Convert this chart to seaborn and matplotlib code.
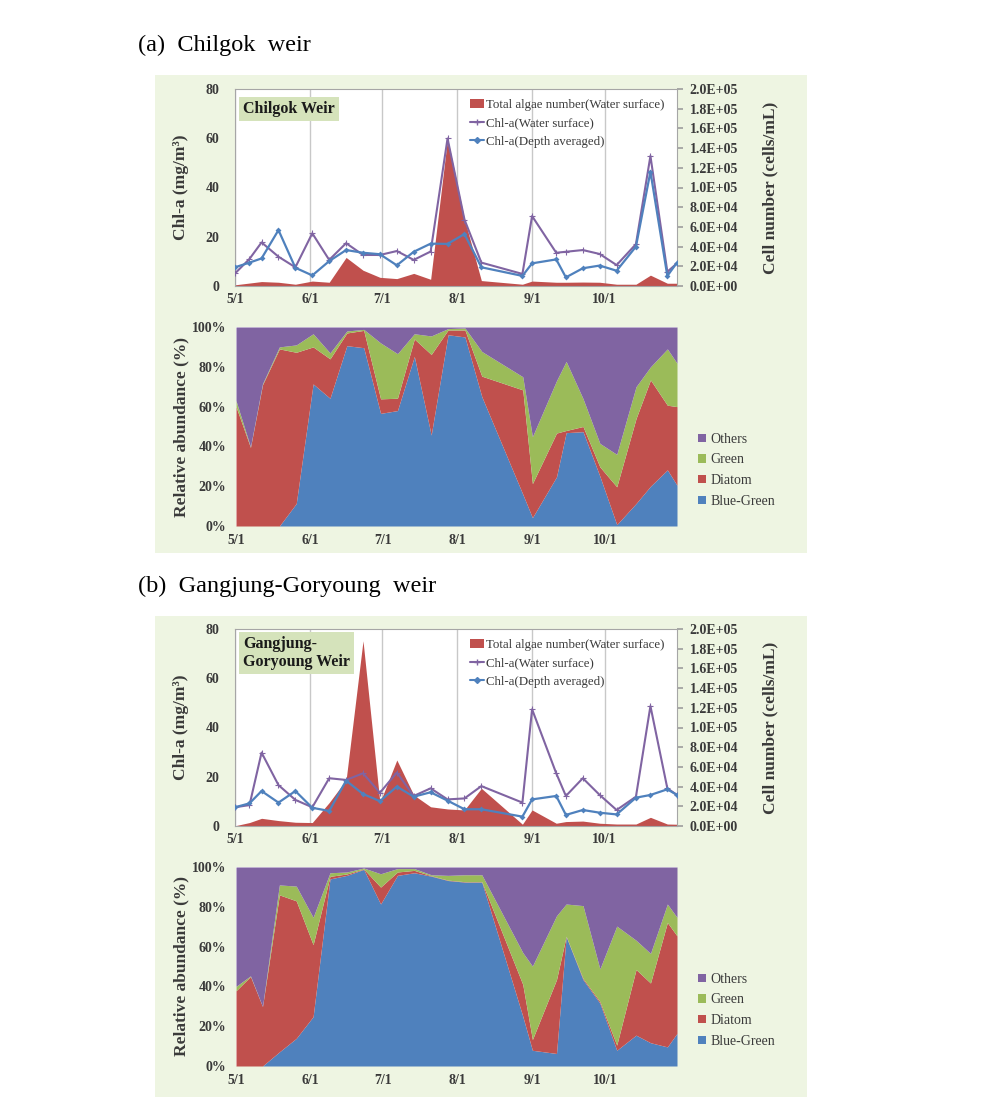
import numpy as np
import pandas as pd
import seaborn as sns
import matplotlib.pyplot as plt
from matplotlib.patches import Patch, Rectangle
from matplotlib.lines import Line2D

# sampling dates (2013)
dates = ["05-01", "05-07", "05-12", "05-19", "05-26", "06-02", "06-09", "06-16", "06-23",
         "06-30", "07-07", "07-14", "07-21", "07-28", "08-04", "08-11", "08-28", "09-01",
         "09-11", "09-15", "09-22", "09-29", "10-06", "10-14", "10-20", "10-27", "10-31"]
month_ticks = ["05-01", "06-01", "07-01", "08-01", "09-01", "10-01"]
month_labels = ["5/1", "6/1", "7/1", "8/1", "9/1", "10/1"]

# (a) Chilgok weir
a_cells = [1200, 3000, 4500, 3800, 1800, 5000, 3800, 29000, 16000, 8800, 7500, 12800, 6800,
           150000, 68000, 5500, 1800, 5000, 3800, 3800, 4000, 3800, 1800, 1800, 11000, 2800, 2800]
a_surface = [5.1, 11.0, 17.7, 11.9, 7.6, 21.4, 10.6, 17.4, 12.6, 12.6, 14.2, 10.6, 14.0, 59.9,
             27.0, 9.5, 4.9, 28.4, 13.5, 13.9, 14.6, 13.0, 8.5, 17.0, 52.8, 5.8, 9.2]
a_depth = [7.6, 9.5, 11.2, 22.7, 7.4, 4.3, 10.1, 14.6, 13.5, 12.9, 8.4, 13.9, 17.2, 17.1,
           21.1, 7.6, 4.1, 9.2, 10.8, 3.5, 7.2, 8.3, 6.2, 16.0, 46.4, 4.1, 9.5]
a_bluegreen = [0, 0, 0, 0, 11.3, 71.4, 64.2, 90.6, 89.6, 56.6, 58.0, 85.2, 45.7, 96.1, 95.0,
               65.0, 16.0, 4.2, 24.7, 46.9, 47.4, 25.0, 0.7, 11.3, 20.0, 28.2, 20.5]
a_diatom = [60.0, 39.5, 71.0, 89.0, 76.0, 18.6, 19.8, 6.4, 8.7, 7.3, 6.2, 8.8, 40.5, 2.4, 3.5,
            10.3, 52.4, 17.1, 22.0, 1.1, 2.6, 4.7, 19.0, 42.7, 53.4, 32.5, 39.5]
a_green = [3.0, 0.3, 0.5, 1.0, 3.7, 6.6, 3.0, 1.0, 0.5, 28.1, 22.4, 2.6, 9.3, 0.7, 1.0, 12.4,
           6.6, 23.6, 26.3, 34.7, 14.0, 11.8, 16.3, 16.0, 6.6, 28.3, 21.8]
a_others = [37.0, 60.2, 28.5, 10.0, 9.0, 3.4, 13.0, 2.0, 1.2, 8.0, 13.4, 3.4, 4.5, 0.8, 0.5,
            12.3, 25.0, 55.1, 27.0, 17.3, 36.0, 58.5, 64.0, 30.0, 20.0, 11.0, 18.2]

# (b) Gangjung-Goryoung weir
b_cells = [250, 3500, 7800, 5500, 3800, 3500, 23800, 46800, 188000, 23800, 67000, 31500, 19500,
           17300, 16300, 38300, 1800, 16300, 2800, 4500, 5000, 2800, 2000, 2000, 8800, 2000, 1800]
b_surface = [7.6, 8.5, 29.8, 16.6, 10.6, 7.6, 19.4, 18.7, 21.4, 13.5, 21.7, 12.2, 15.3, 10.8,
             11.2, 16.2, 9.5, 47.4, 21.4, 12.2, 19.4, 12.6, 6.5, 11.9, 48.7, 15.3, 12.6]
b_depth = [7.6, 9.2, 14.2, 9.5, 14.2, 7.4, 6.1, 18.4, 13.0, 10.1, 16.0, 11.9, 13.7, 10.3, 6.8,
           6.8, 3.8, 10.8, 12.2, 4.5, 6.5, 5.4, 4.7, 11.5, 12.6, 14.9, 12.6]
b_bluegreen = [0, 0, 0, 7.1, 13.9, 24.8, 94.0, 95.8, 98.8, 81.4, 95.8, 97.1, 95.4, 93.2, 92.4,
               92.4, 25.0, 7.9, 6.3, 65.0, 43.4, 31.6, 7.9, 15.5, 11.7, 9.6, 16.4]
b_diatom = [37.8, 45.0, 29.9, 78.9, 69.1, 36.2, 1.3, 0.7, 0.2, 8.5, 1.7, 1.2, 0.2, 0.2, 0.2,
            0.2, 16.0, 5.4, 37.1, 0.2, 0.6, 0.8, 2.6, 33.0, 30.0, 62.5, 49.0]
b_green = [2.2, 0.3, 0.0, 5.0, 7.4, 13.7, 1.8, 1.0, 0.5, 6.7, 1.7, 0.9, 0.5, 2.4, 3.5, 3.5,
           16.0, 36.9, 32.1, 16.2, 36.6, 16.4, 59.8, 14.7, 14.9, 9.3, 9.3]
b_others = [60.0, 54.7, 70.1, 9.0, 9.6, 25.3, 2.9, 2.5, 0.5, 3.4, 0.8, 0.8, 3.9, 4.2, 3.9,
            3.9, 43.0, 49.8, 24.5, 18.6, 19.4, 51.2, 29.7, 36.8, 43.4, 18.6, 25.3]

RED, PURPLE, BLUE, GREEN = "#c0504d", "#8064a2", "#4f81bd", "#9bbb59"
TXT = "#3a3a3a"

sns.set_theme(style="white")
plt.rcParams["font.family"] = ["Liberation Serif", "DejaVu Serif"]
plt.rcParams["font.weight"] = "bold"
plt.rcParams["axes.labelweight"] = "bold"

start = pd.Timestamp("2013-05-01")
to_day = lambda lst: np.array((pd.to_datetime(["2013-" + d for d in lst]) - start).days)
days = to_day(dates)
mdays = to_day(month_ticks)
XMAX = days[-1]


def draw_weir(fig, y_top, y_bot, box_text, cells, surface, depth, comp):
    W, H = 998, 1107
    # ---- upper panel: cell number (area, right axis) + Chl-a lines (left axis)
    ax = fig.add_axes([235 / W, 1 - (y_top + 197) / H, 442 / W, 197 / H])
    ax2 = ax.twinx()
    ax.set_facecolor("white")
    ax.fill_between(days, cells, color=RED, lw=0)
    ax.set_xlim(0, XMAX)
    ax.set_ylim(0, 2e5)
    ax.set_xticks(mdays)
    ax.set_xticklabels(month_labels)
    ax.set_axisbelow(True)
    ax.grid(axis="x", color="#c8c8c8", lw=1)
    ax.grid(axis="y", visible=False)
    ax.yaxis.tick_right()
    ax.yaxis.set_label_position("right")
    ticks = np.arange(0, 200001, 20000)
    ax.set_yticks(ticks)
    ax.set_yticklabels([f"{v:.1E}" for v in ticks])
    ax.tick_params(axis="y", length=4, direction="out", color="#a0a0a0", pad=5,
                   labelsize=10, labelcolor=TXT)
    ax.tick_params(axis="x", length=0, pad=5, labelsize=10, labelcolor=TXT)
    ax.set_ylabel("Cell number (cells/mL)", fontsize=12.5, color=TXT)
    ax.yaxis.set_label_coords(1.194, 0.5)
    for s in ax.spines.values():
        s.set_color("#a6a6a6")
        s.set_linewidth(0.8)

    ax2.yaxis.tick_left()
    ax2.yaxis.set_label_position("left")
    df = pd.DataFrame({"day": days, "surface": surface, "depth": depth})
    sns.lineplot(data=df, x="day", y="surface", ax=ax2, color=PURPLE, lw=1.5,
                 marker="+", markersize=5, markeredgewidth=0.8, markeredgecolor=PURPLE)
    sns.lineplot(data=df, x="day", y="depth", ax=ax2, color=BLUE, lw=1.6,
                 marker="D", markersize=3, markeredgewidth=0)
    ax2.set_ylim(0, 80)
    ax2.set_xlim(0, XMAX)
    ax2.set_yticks([0, 20, 40, 60, 80])
    ax2.tick_params(axis="y", length=0, pad=11, labelsize=10, labelcolor=TXT)
    ax2.set_ylabel("Chl-a (mg/m³)", fontsize=12.5, color=TXT)
    ax2.yaxis.set_label_coords(-0.105, 0.5)
    ax2.set_xlabel("")
    for s in ax2.spines.values():
        s.set_visible(False)

    handles = [Patch(facecolor=RED, edgecolor="none"),
               Line2D([], [], color=PURPLE, lw=1.5, marker="+", markersize=5),
               Line2D([], [], color=BLUE, lw=1.5, marker="D", markersize=3)]
    labels = ["Total algae number(Water surface)", "Chl-a(Water surface)",
              "Chl-a(Depth averaged)"]
    ax2.legend(handles, labels, loc="center left", bbox_to_anchor=(0.52, 0.825),
               frameon=False, prop={"size": 9.3, "weight": "normal"}, handlelength=1.1,
               handletextpad=0.1, labelspacing=0.5, borderaxespad=0,
               labelcolor=TXT)
    two = "\n" in box_text
    ax2.text(0.018, 0.878 if two else 0.9, box_text, transform=ax2.transAxes,
             fontsize=11.5, fontweight="bold", color="#1a1a1a", va="center", ha="left",
             linespacing=1.2,
             bbox=dict(boxstyle="square,pad=0.25", facecolor="#d5e3bb", edgecolor="none"))

    # ---- lower panel: relative abundance
    axb = fig.add_axes([236 / W, 1 - (y_bot + 199) / H, 441 / W, 199 / H])
    blue, diatom, green, others = comp
    axb.stackplot(days, blue, diatom, green, others, colors=[BLUE, RED, GREEN, PURPLE],
                  lw=0)
    axb.set_xlim(0, XMAX)
    axb.set_ylim(0, 100)
    axb.set_xticks(mdays)
    axb.set_xticklabels(month_labels)
    axb.set_yticks(np.arange(0, 101, 20))
    axb.set_yticklabels([f"{v}%" for v in range(0, 101, 20)])
    axb.tick_params(length=0, labelsize=10, labelcolor=TXT)
    axb.tick_params(axis="y", pad=7)
    axb.tick_params(axis="x", pad=6)
    axb.grid(False)
    for s in axb.spines.values():
        s.set_visible(False)
    axb.set_ylabel("Relative abundance (%)", fontsize=12.5, color=TXT)
    axb.yaxis.set_label_coords(-0.105, 0.5)
    lh = [Patch(facecolor=c, edgecolor="none") for c in [PURPLE, GREEN, RED, BLUE]]
    axb.legend(lh, ["Others", "Green", "Diatom", "Blue-Green"], loc="center left",
               bbox_to_anchor=(1.035, 0.28), frameon=False,
               prop={"size": 10, "weight": "normal"}, handlelength=0.55,
               handleheight=0.55, handletextpad=0.35, labelspacing=0.55,
               borderaxespad=0, labelcolor=TXT)


fig = plt.figure(figsize=(9.98, 11.07), dpi=100)
fig.patch.set_facecolor("white")
for y0, y1 in [(75, 553), (616, 1097)]:
    fig.patches.append(Rectangle((155 / 998, 1 - y1 / 1107), 652 / 998, (y1 - y0) / 1107,
                                 transform=fig.transFigure, facecolor="#eef5e2",
                                 edgecolor="none", zorder=-10))
fig.text(138 / 998, 1 - 45 / 1107, "(a)  Chilgok  weir", fontsize=17.5, fontweight="normal",
         color="black", va="center")
fig.text(138 / 998, 1 - 586 / 1107, "(b)  Gangjung-Goryoung  weir", fontsize=17.5,
         fontweight="normal", color="black", va="center")

draw_weir(fig, 89, 327, "Chilgok Weir", a_cells, a_surface, a_depth,
          (a_bluegreen, a_diatom, a_green, a_others))
draw_weir(fig, 629, 867, "Gangjung-\nGoryoung Weir", b_cells, b_surface, b_depth,
          (b_bluegreen, b_diatom, b_green, b_others))

fig.savefig("out.png", dpi=100)
